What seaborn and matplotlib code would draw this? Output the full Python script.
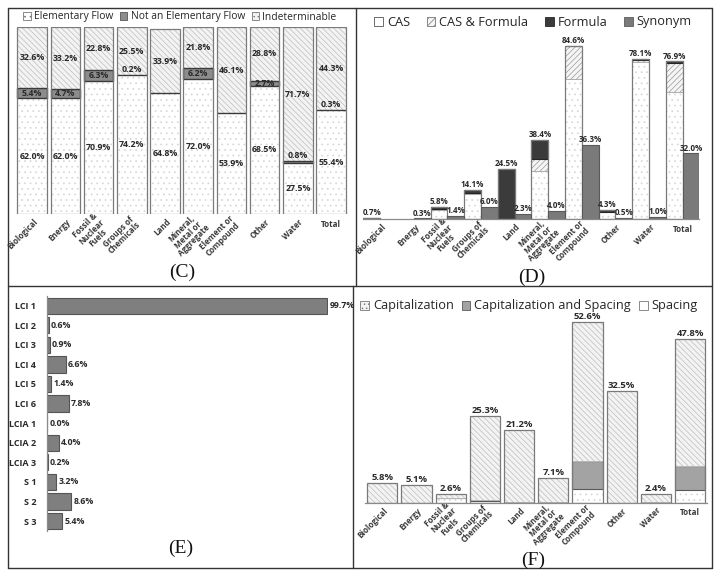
import numpy as np
import pandas as pd
import seaborn as sns
import matplotlib.pyplot as plt
import matplotlib.transforms as mtrans
from matplotlib.patches import Patch
from matplotlib.lines import Line2D

W, H = 721, 578

categories = ["Biological", "Energy", "Fossil &\nNuclear\nFuels", "Groups of\nChemicals", "Land",
              "Mineral,\nMetal or\nAggregate", "Element or\nCompound", "Other", "Water", "Total"]

# (C) flow classification, percent
c_elementary = [62.0, 62.0, 70.9, 74.2, 64.8, 72.0, 53.9, 68.5, 27.5, 55.4]
c_not_elementary = [5.4, 4.7, 6.3, 0.2, 0.0, 6.2, 0.0, 2.7, 0.8, 0.3]
c_indeterminable = [32.6, 33.2, 22.8, 25.5, 33.9, 21.8, 46.1, 28.8, 71.7, 44.3]

# (D) match type, percent
d_cas = [0.0, 0.0, 4.2, 12.4, 0.0, 23.5, 68.5, 3.3, 76.8, 62.1]
d_cas_formula = [0.0, 0.0, 0.5, 0.2, 0.0, 6.0, 15.8, 0.0, 1.0, 13.8]
d_formula = [0.7, 0.0, 1.1, 1.5, 24.5, 8.9, 0.3, 1.0, 0.3, 1.0]
d_synonym = [0.0, 0.3, 1.4, 6.0, 2.3, 4.0, 36.3, 0.5, 1.0, 32.0]

# (E) per source list
e_labels = ["LCI 1", "LCI 2", "LCI 3", "LCI 4", "LCI 5", "LCI 6",
            "LCIA 1", "LCIA 2", "LCIA 3", "S 1", "S 2", "S 3"]
e_values = [99.7, 0.6, 0.9, 6.6, 1.4, 7.8, 0.0, 4.0, 0.2, 3.2, 8.6, 5.4]

# (F) name differences, percent
f_spacing = [0.0, 0.0, 1.5, 0.4, 0.0, 0.0, 4.1, 0.0, 0.0, 3.6]
f_cap_spacing = [0.0, 0.0, 0.0, 0.5, 0.2, 0.2, 8.1, 0.0, 0.2, 7.1]
f_capitalization = [5.8, 5.1, 1.1, 24.4, 21.0, 6.9, 40.4, 32.5, 2.2, 37.1]

sns.set_style("white")
plt.rcParams['font.family'] = ['Open Sans', 'DejaVu Sans']
plt.rcParams['hatch.linewidth'] = 0.5

fig = plt.figure(figsize=(W / 100, H / 100), dpi=100)


def add_axes_px(left, top, right, bottom):
    return fig.add_axes([left / W, 1 - bottom / H, (right - left) / W, (bottom - top) / H])


lab = dict(fontsize=6.3, fontweight='bold', color='#2a2a2a')


def style_cat_axis(ax):
    ax.set_xticks(range(len(categories)))
    ax.set_xticklabels(categories)
    ax.tick_params(axis='x', length=0, pad=4)
    shift = mtrans.ScaledTranslation(4 / 100, -1 / 100, fig.dpi_scale_trans)
    for t in ax.get_xticklabels():
        t.set_fontsize(5.8)
        t.set_fontweight('bold')
        t.set_color('#3a3a3a')
        t.set_linespacing(0.95)
        if t.get_text() == 'Total':
            t.set_va('top')
        else:
            t.set_rotation(45)
            t.set_ha('right')
            t.set_va('center')
            t.set_rotation_mode('anchor')
            t.set_multialignment('center')
            t.set_transform(t.get_transform() + shift)
    ax.set_yticks([])
    ax.set_xlabel('')
    ax.set_ylabel('')


light_hatch = dict(color='#f3f3f3', hatch='\\\\\\\\\\\\', edgecolor='#bdbdbd', linewidth=0.5)
dotted = dict(color='white', hatch='...', edgecolor='#d6d6d6', linewidth=0.5)

# ---------------- (C)
axC = add_axes_px(15.5, 27, 347.7, 214)
c_mid = np.array(c_elementary) + np.array(c_not_elementary)
c_total = c_mid + np.array(c_indeterminable)
bw = 0.89
sns.barplot(x=categories, y=c_elementary, width=bw, errorbar=None, ax=axC, **dotted)
sns.barplot(x=categories, y=c_indeterminable, bottom=c_mid, width=bw, errorbar=None, ax=axC, **light_hatch)
sns.barplot(x=categories, y=c_not_elementary, bottom=c_elementary, width=bw, errorbar=None, ax=axC,
            color='#8c8c8c', edgecolor='#3a3a3a', linewidth=1.0)
sns.barplot(x=categories, y=list(c_total), width=bw, errorbar=None, ax=axC,
            color='white', facecolor='none', edgecolor='#7a7a7a', linewidth=0.9)
axC.set_ylim(0, 100)
sns.despine(ax=axC, left=True, bottom=True)
style_cat_axis(axC)
for i in range(len(categories)):
    axC.text(i, c_elementary[i] / 2, f"{c_elementary[i]:.1f}%", ha='center', va='center', **lab)
    v = c_not_elementary[i]
    if v > 0:
        if v < 1.5:
            axC.text(i, c_mid[i] + 0.4, f"{v:.1f}%", ha='center', va='bottom', **lab)
        else:
            axC.text(i, c_elementary[i] + v / 2, f"{v:.1f}%", ha='center', va='center', **lab)
    axC.text(i, c_mid[i] + c_indeterminable[i] / 2, f"{c_indeterminable[i]:.1f}%",
             ha='center', va='center', **lab)
fig.legend(handles=[Patch(facecolor='white', hatch='...', edgecolor='#777777', linewidth=0.6),
                    Patch(facecolor='#8c8c8c', edgecolor='#555555', linewidth=0.6),
                    Patch(facecolor='#f3f3f3', hatch='....', edgecolor='#777777', linewidth=0.6)],
           labels=["Elementary Flow", "Not an Elementary Flow", "Indeterminable"],
           loc='center', bbox_to_anchor=(180 / W, 1 - 17 / H), ncol=3, frameon=False,
           fontsize=7.4, handlelength=0.7, handleheight=0.7, handletextpad=0.3,
           columnspacing=0.7, borderaxespad=0, borderpad=0)

# ---------------- (D)
axD = add_axes_px(363.4, 34.5, 699.4, 219)
d_kind = ["stack"] * len(categories) + ["syn"] * len(categories)


def d_bars(stack_vals, syn_vals, bottom, color, **kw):
    df = pd.DataFrame({"category": categories * 2, "kind": d_kind,
                       "value": list(stack_vals) + list(syn_vals)})
    sns.barplot(data=df, x="category", y="value", hue="kind", hue_order=["stack", "syn"],
                palette={"stack": color, "syn": color}, dodge=True, width=1.0,
                bottom=bottom, errorbar=None, legend=False, ax=axD, **kw)


zeros = [0.0] * len(categories)
d_b1 = np.array(d_cas)
d_b2 = d_b1 + np.array(d_cas_formula)
d_stack = d_b2 + np.array(d_formula)
d_bars(d_cas, zeros, 0, 'white', hatch='...', edgecolor='#d6d6d6', linewidth=0.5)
d_bars(d_cas_formula, zeros, d_b1, '#f5f5f5', hatch='//////', edgecolor='#9a9a9a', linewidth=0.5)
d_bars(d_formula, zeros, d_b2, '#3b3b3b', edgecolor='#262626', linewidth=0.8)
d_bars(list(d_stack), zeros, 0, 'white', facecolor='none', edgecolor='#7a7a7a', linewidth=0.9)
d_bars(zeros, d_synonym, 0, '#7a7a7a', edgecolor='#5a5a5a', linewidth=0.8)
for p in list(axD.patches):
    if p.get_height() == 0:
        p.remove()
axD.set_ylim(0, 90)
sns.despine(ax=axD, left=True)
axD.spines['bottom'].set_color('#8a8a8a')
axD.spines['bottom'].set_linewidth(0.9)
style_cat_axis(axD)
for i in range(len(categories)):
    if d_stack[i] > 0:
        axD.text(i - 0.25, d_stack[i] + 0.4, f"{d_stack[i]:.1f}%", ha='center', va='bottom',
                 fontsize=5.8, fontweight='bold', color='#2a2a2a')
    if d_synonym[i] > 0:
        axD.text(i + 0.25, d_synonym[i] + 0.4, f"{d_synonym[i]:.1f}%", ha='center', va='bottom',
                 fontsize=5.8, fontweight='bold', color='#2a2a2a')
fig.legend(handles=[Patch(facecolor='white', edgecolor='#555555', linewidth=0.6),
                    Patch(facecolor='#f5f5f5', hatch='/////', edgecolor='#777777', linewidth=0.6),
                    Patch(facecolor='#3b3b3b', edgecolor='#262626', linewidth=0.6),
                    Patch(facecolor='#7a7a7a', edgecolor='#5a5a5a', linewidth=0.6)],
           labels=["CAS", "CAS & Formula", "Formula", "Synonym"],
           loc='center', bbox_to_anchor=(533 / W, 1 - 22 / H), ncol=4, frameon=False,
           fontsize=9.2, handlelength=0.7, handleheight=0.7, handletextpad=0.3,
           columnspacing=1.3, borderaxespad=0, borderpad=0)

# ---------------- (E)
axE = add_axes_px(47.3, 295.9, 328.3, 530.8)
sns.barplot(x=e_values, y=e_labels, orient='h', color='#7f7f7f', edgecolor='#555555',
            linewidth=0.8, width=0.83, errorbar=None, ax=axE)
axE.set_xlim(0, 100)
sns.despine(ax=axE, bottom=True)
axE.spines['left'].set_color('#8a8a8a')
axE.spines['left'].set_linewidth(0.9)
axE.set_xticks([])
axE.set_xlabel('')
axE.set_ylabel('')
axE.tick_params(axis='y', length=0, pad=8)
for t in axE.get_yticklabels():
    t.set_fontsize(6.5)
    t.set_fontweight('bold')
    t.set_color('#2a2a2a')
for i, v in enumerate(e_values):
    axE.text(v + 0.7, i, f"{v:.1f}%", ha='left', va='center', clip_on=False, **lab)

# ---------------- (F)
axF = add_axes_px(365.2, 307.2, 707.2, 502.7)
f_b1 = np.array(f_spacing)
f_b2 = f_b1 + np.array(f_cap_spacing)
f_total = f_b2 + np.array(f_capitalization)
fw = 0.88
sns.barplot(x=categories, y=f_spacing, width=fw, errorbar=None, ax=axF, **dotted)
sns.barplot(x=categories, y=f_cap_spacing, bottom=f_b1, width=fw, errorbar=None, ax=axF,
            color='#a3a3a3', edgecolor='#5a5a5a', linewidth=0.8)
sns.barplot(x=categories, y=f_capitalization, bottom=f_b2, width=fw, errorbar=None, ax=axF,
            **light_hatch)
sns.barplot(x=categories, y=list(f_total), width=fw, errorbar=None, ax=axF,
            color='white', facecolor='none', edgecolor='#7a7a7a', linewidth=0.9)
axF.set_ylim(0, 57)
sns.despine(ax=axF, left=True)
axF.spines['bottom'].set_color('#8a8a8a')
axF.spines['bottom'].set_linewidth(0.9)
style_cat_axis(axF)
for i, v in enumerate(f_total):
    axF.text(i, v + 0.3, f"{v:.1f}%", ha='center', va='bottom', fontsize=6.8, fontweight='bold',
             color='#2a2a2a')
fig.legend(handles=[Patch(facecolor='#f3f3f3', hatch='....', edgecolor='#777777', linewidth=0.6),
                    Patch(facecolor='#a3a3a3', edgecolor='#5a5a5a', linewidth=0.6),
                    Patch(facecolor='white', edgecolor='#777777', linewidth=0.6)],
           labels=["Capitalization", "Capitalization and Spacing", "Spacing"],
           loc='center', bbox_to_anchor=(529 / W, 1 - 306 / H), ncol=3, frameon=False,
           fontsize=9.2, handlelength=0.7, handleheight=0.7, handletextpad=0.3,
           columnspacing=0.6, borderaxespad=0, borderpad=0)

# ---------------- panel frame and letters
frame = [((8.3, 8.3), (711.7, 8.3)), ((8.3, 567.7), (711.7, 567.7)),
         ((8.3, 8.3), (8.3, 567.7)), ((711.7, 8.3), (711.7, 567.7)),
         ((8.3, 286), (711.7, 286)), ((356, 8.3), (356, 286)), ((353, 286), (353, 567.7))]
for (x0, y0), (x1, y1) in frame:
    fig.add_artist(Line2D([x0 / W, x1 / W], [1 - y0 / H, 1 - y1 / H], color='#333333', lw=1))
for txt, x, y in [("(C)", 182, 272), ("(D)", 532, 277), ("(E)", 181, 548), ("(F)", 533, 560)]:
    fig.text(x / W, 1 - y / H, txt, family='Liberation Serif', fontsize=14,
             ha='center', va='center', color='#111111')

fig.savefig("out.png", dpi=100)
